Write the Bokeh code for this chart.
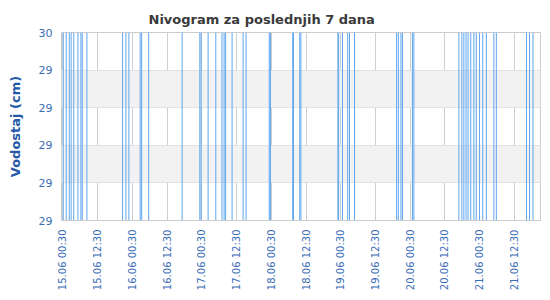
import math
from bokeh.plotting import figure
from bokeh.models import Range1d, FixedTicker
from bokeh.embed import file_html
from bokeh.resources import INLINE

title_text = "Nivogram za poslednjih 7 dana"
y_axis_title = "Vodostaj (cm)"

# hours since 15.06 00:00 at which the reading changes
hours = [0.0,
         0.60, 1.64, 2.68, 3.33, 4.23, 5.68, 6.71, 7.16, 8.78,
         21.11, 22.25, 23.28,
         27.18, 27.70, 30.12,
         41.68, 47.79, 48.24, 50.66, 53.31, 55.45, 56.18, 56.70, 58.94, 62.74, 63.77,
         71.78, 72.20, 79.89, 80.17, 82.31, 82.72, 95.50, 95.77, 97.08, 98.88,
         99.50, 101.23, 115.79, 116.38, 117.28, 117.80, 121.25, 121.76,
         137.30, 138.33, 139.02, 139.78, 140.47, 141.41, 142.48, 143.30, 144.44,
         145.55, 146.79, 149.38, 150.24, 160.67, 161.70, 162.91,
         165.5]
# water level (cm) from that moment on
levels = [29, 30, 29, 30, 29, 30, 29, 30, 29, 30,
          29, 30, 29, 30, 29, 30, 29, 30, 29, 30,
          29, 30, 29, 30, 29, 30, 29, 30, 29, 30,
          29, 30, 29, 30, 29, 30, 29, 30, 29, 30,
          29, 30, 29, 30, 29, 30, 29, 30, 29, 30,
          29, 30, 29, 30, 29, 30, 29, 30, 29, 30,
          29, 29]

x_tick_hours = [0.5, 12.5, 24.5, 36.5, 48.5, 60.5, 72.5, 84.5, 96.5, 108.5,
                120.5, 132.5, 144.5, 156.5]
x_tick_labels = ["15.06 00:30", "15.06 12:30", "16.06 00:30", "16.06 12:30",
                 "17.06 00:30", "17.06 12:30", "18.06 00:30", "18.06 12:30",
                 "19.06 00:30", "19.06 12:30", "20.06 00:30", "20.06 12:30",
                 "21.06 00:30", "21.06 12:30"]
y_ticks = [29.0, 29.2, 29.4, 29.6, 29.8, 30.0]
y_tick_labels = ["29", "29", "29", "29", "29", "30"]

FONT = "DejaVu Sans"
TICK_COLOR = "#3a6db5"

p = figure(width=550, height=300, output_backend="svg", toolbar_location=None,
           x_range=Range1d(hours[0], hours[-1]), y_range=Range1d(29, 30),
           min_border_left=61, min_border_right=10, min_border_top=32,
           min_border_bottom=80, background_fill_color="white",
           border_fill_color="white")

# the level changes: from the previous reading to the new one
change_x = hours[1:-1]
prev_level = levels[0:-2]
new_level = levels[1:-1]
p.segment(x0=change_x, y0=prev_level, x1=change_x, y1=new_level,
          line_color="#5fa6ee", line_width=1)

p.title.text = title_text
p.title.align = "left"
p.title.offset = 87
p.title.standoff = 12
p.title.text_font = FONT
p.title.text_font_size = "13px"
p.title.text_font_style = "bold"
p.title.text_color = "#3a3a3a"

p.outline_line_color = "#cccccc"
p.outline_line_width = 1

xa = p.xaxis[0]
xa.ticker = FixedTicker(ticks=x_tick_hours)
xa.major_label_overrides = dict(zip(x_tick_hours, x_tick_labels))
xa.major_label_orientation = math.pi / 2
xa.major_label_text_font = FONT
xa.major_label_text_font_size = "10px"
xa.major_label_text_color = TICK_COLOR
xa.major_label_standoff = 9
xa.major_tick_out = 0
xa.major_tick_in = 0
xa.minor_tick_out = 0
xa.minor_tick_in = 0
xa.axis_line_color = "#cccccc"

ya = p.yaxis[0]
ya.ticker = FixedTicker(ticks=y_ticks)
ya.major_label_overrides = dict(zip(y_ticks, y_tick_labels))
ya.major_label_text_font = FONT
ya.major_label_text_font_size = "11px"
ya.major_label_text_color = TICK_COLOR
ya.major_label_standoff = 9
ya.major_tick_out = 0
ya.major_tick_in = 0
ya.minor_tick_out = 0
ya.minor_tick_in = 0
ya.axis_line_color = None
ya.axis_label = y_axis_title
ya.axis_label_text_font = FONT
ya.axis_label_text_font_size = "13px"
ya.axis_label_text_font_style = "bold"
ya.axis_label_text_color = "#2559a8"
ya.axis_label_standoff = 13

p.xgrid.grid_line_color = "#cfcfcf"
p.ygrid.grid_line_color = "#e2e2e2"
p.ygrid.band_fill_color = "#f2f2f2"
p.ygrid.band_fill_alpha = 1.0

open("out.html", "w").write(file_html(p, INLINE))
